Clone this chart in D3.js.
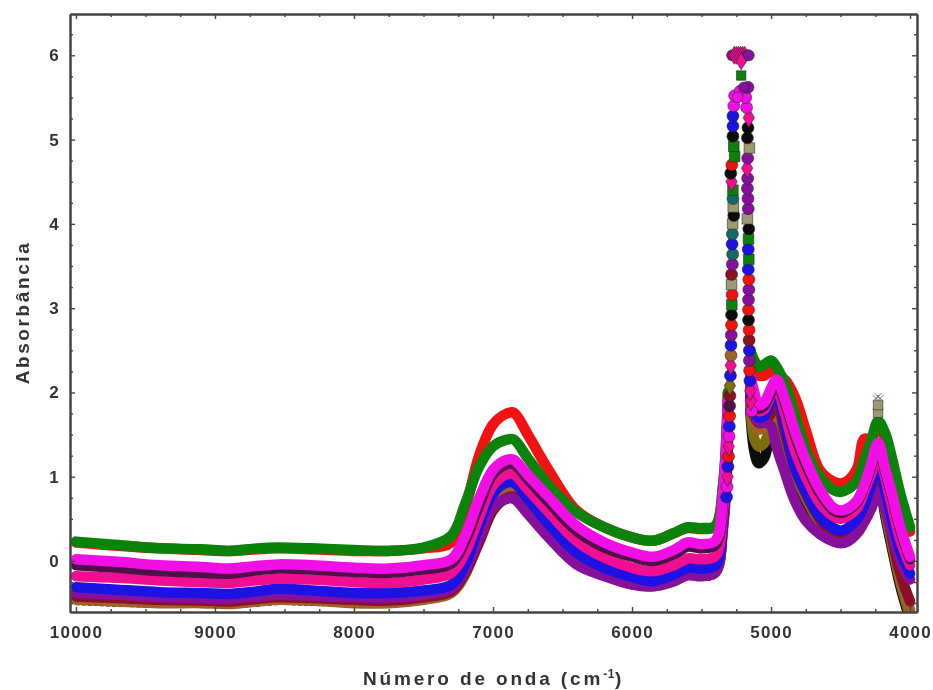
<!DOCTYPE html>
<html><head><meta charset="utf-8">
<script src="https://cdnjs.cloudflare.com/ajax/libs/d3/7.8.5/d3.min.js"></script>
<style>
html,body{margin:0;padding:0;background:#fff}
svg{display:block;filter:blur(0.75px)}
text{font-family:"Liberation Sans",Arial,sans-serif;font-weight:bold;fill:#333}
</style></head><body><svg id="c" width="933" height="690"></svg>
<script>
const wavenumbers=[10000,9700,9400,9100,8900,8700,8550,8300,8000,7750,7500,7300,7200,7100,7000,6900,6850,6750,6600,6400,6200,6000,5850,5700,5600,5500,5400,5345,5310,
 5150,5120,5090,5050,5000,4960,4900,4830,4750,4650,4550,4500,4450,4380,4330,4280,4230,4180,4130,4070,4000];
const gapIndex=29;
const xTicks=[10000,9000,8000,7000,6000,5000,4000];
const yTicks=[0,1,2,3,4,5,6];

const red=[0.22,0.18,0.15,0.13,0.12,0.14,0.15,0.14,0.12,0.12,0.15,0.22,0.62,1.25,1.62,1.75,1.76,1.5,1.08,0.6,0.4,0.28,0.24,0.33,0.39,0.38,0.41,0.9,2.0,
 2.4,2.3,2.2,2.2,2.25,2.2,2.15,1.95,1.55,1.08,0.94,0.92,0.95,1.1,1.45,1.45,1.6,1.45,1.15,0.75,0.35];
const green=[0.23,0.19,0.15,0.14,0.12,0.15,0.16,0.15,0.13,0.12,0.16,0.3,0.68,1.12,1.36,1.44,1.44,1.22,0.9,0.58,0.4,0.28,0.24,0.33,0.4,0.39,0.42,0.9,2.0,
 2.5,2.38,2.3,2.33,2.38,2.3,2.1,1.75,1.32,1.0,0.84,0.82,0.85,0.96,1.2,1.42,1.66,1.52,1.22,0.8,0.4];
const black=[-0.5,-0.52,-0.53,-0.53,-0.54,-0.52,-0.5,-0.51,-0.52,-0.52,-0.48,-0.4,-0.2,0.2,0.58,0.7,0.7,0.52,0.26,-0.04,-0.2,-0.3,-0.33,-0.27,-0.2,-0.21,-0.18,0.35,1.3,
 1.8,1.3,1.16,1.22,1.55,1.7,1.4,1.0,0.7,0.42,0.28,0.26,0.28,0.38,0.52,0.7,1.0,0.55,0.15,-0.3,-0.7];
const olive=[-0.45,-0.47,-0.49,-0.49,-0.5,-0.47,-0.45,-0.46,-0.49,-0.49,-0.45,-0.37,-0.15,0.26,0.66,0.78,0.78,0.6,0.32,0.0,-0.16,-0.27,-0.3,-0.24,-0.16,-0.17,-0.14,0.38,1.35,
 1.85,1.45,1.36,1.4,1.6,1.75,1.45,1.05,0.75,0.46,0.31,0.29,0.31,0.41,0.55,0.75,1.05,0.6,0.2,-0.25,-0.65];
const brown=[-0.46,-0.48,-0.5,-0.5,-0.51,-0.48,-0.46,-0.47,-0.5,-0.5,-0.46,-0.38,-0.16,0.27,0.68,0.82,0.84,0.64,0.34,0.02,-0.14,-0.25,-0.29,-0.22,-0.14,-0.15,-0.12,0.42,1.42,
 1.9,1.62,1.56,1.58,1.7,1.85,1.5,1.1,0.8,0.5,0.33,0.31,0.33,0.44,0.6,0.8,1.1,0.65,0.25,-0.2,-0.58];
const darkred=[-0.42,-0.44,-0.46,-0.47,-0.48,-0.45,-0.43,-0.44,-0.46,-0.47,-0.43,-0.36,-0.14,0.22,0.6,0.75,0.76,0.58,0.3,0,-0.16,-0.26,-0.29,-0.22,-0.14,-0.15,-0.12,0.45,1.45,
 1.95,1.72,1.64,1.65,1.75,1.88,1.52,1.1,0.8,0.5,0.33,0.31,0.33,0.44,0.6,0.8,1.12,0.68,0.28,-0.15,-0.48];
const purple=[-0.38,-0.4,-0.43,-0.44,-0.45,-0.42,-0.4,-0.41,-0.43,-0.44,-0.4,-0.33,-0.1,0.28,0.64,0.74,0.74,0.56,0.28,-0.04,-0.18,-0.28,-0.3,-0.24,-0.17,-0.18,-0.13,0.45,1.5,
 2.0,1.75,1.65,1.65,1.6,1.35,1.05,0.72,0.48,0.32,0.23,0.21,0.23,0.33,0.46,0.62,0.82,0.62,0.32,0,-0.22];
const blue=[-0.31,-0.34,-0.37,-0.38,-0.39,-0.36,-0.33,-0.35,-0.38,-0.38,-0.35,-0.28,-0.04,0.42,0.8,0.93,0.93,0.74,0.44,0.1,-0.08,-0.19,-0.24,-0.16,-0.08,-0.09,-0.05,0.5,1.6,
 2.05,1.8,1.7,1.72,1.9,1.98,1.62,1.12,0.82,0.53,0.39,0.36,0.39,0.5,0.66,0.9,1.2,0.85,0.5,0.12,-0.15];
const pink=[-0.18,-0.2,-0.23,-0.25,-0.26,-0.23,-0.21,-0.22,-0.25,-0.26,-0.22,-0.14,0.1,0.52,0.9,1.03,1.03,0.85,0.58,0.24,0.04,-0.08,-0.12,-0.05,0.03,0.02,0.06,0.6,1.7,
 2.1,1.9,1.78,1.8,1.97,2.05,1.75,1.32,1.0,0.69,0.53,0.5,0.53,0.63,0.82,1.04,1.3,1.0,0.65,0.25,-0.05];
const darkline=[-0.05,-0.08,-0.12,-0.14,-0.15,-0.11,-0.09,-0.1,-0.13,-0.14,-0.1,-0.03,0.24,0.66,1.03,1.15,1.15,0.97,0.7,0.36,0.16,0.05,0,0.08,0.17,0.15,0.19,0.75,1.85,
 2.15,1.95,1.81,1.84,2.0,2.12,1.88,1.5,1.15,0.81,0.6,0.57,0.6,0.7,0.88,1.12,1.37,1.07,0.77,0.37,0.02];
const magenta=[0.02,-0.01,-0.05,-0.07,-0.09,-0.06,-0.04,-0.05,-0.08,-0.09,-0.05,0.02,0.3,0.74,1.08,1.2,1.2,1.02,0.76,0.42,0.22,0.1,0.05,0.13,0.22,0.2,0.24,0.8,1.9,
 2.2,2.0,1.85,1.88,2.05,2.15,1.92,1.55,1.2,0.85,0.63,0.6,0.62,0.72,0.9,1.15,1.4,1.1,0.8,0.4,0.05];

const seriesColors=["#f21212","#0b830b","#0c0c0c","#7d6d10","#a0602a","#8c1024","#86109c","#1c12e4","#f00f92","#4e1048","#f20fe6","#9c9a72","#136a66"];
const seriesValues=[red,green,black,olive,brown,darkred,purple,blue,pink,darkline,magenta];

const peakLeftAbs=[5.52,5.4,5.28,5.16,5.04,4.92,4.8,4.7,4.6,4.5,4.4,4.3,4.2,4.1,4.0,3.88,3.76,3.64,3.52,3.4,3.28,3.16,3.04,2.92,2.8,2.68,2.56,2.44,2.32,2.2,2.08,1.96,1.84,1.72,1.6,1.48,1.36,1.24,1.12,1.0,0.88,0.76];
const peakLeftWn=[5262,5268,5274,5274,5274,5268,5262,5282,5290,5284,5274,5274,5272,5268,5276,5278,5280,5276,5278,5284,5284,5280,5282,5284,5284,5286,5288,5288,5290,5292,5296,5296,5298,5298,5300,5302,5304,5306,5310,5312,5316,5320];
const peakLeftSeries=[10,10,7,7,2,1,1,0,2,8,1,12,11,2,11,12,7,12,6,5,11,0,1,2,0,6,7,4,8,7,3,5,9,0,7,10,8,0,7,8,10,7];

const peakRightAbs=[5.62,5.5,5.38,5.26,5.14,5.02,4.9,4.78,4.66,4.54,4.42,4.3,4.18,4.06,3.94,3.82,3.7,3.58,3.46,3.34,3.22,3.1,2.98,2.86,2.74,2.62,2.5,2.38,2.26,2.14,2.02,1.9,1.78];
const peakRightWn=[5166,5182,5176,5160,5166,5170,5156,5168,5172,5168,5170,5166,5164,5170,5160,5162,5164,5160,5164,5160,5160,5162,5162,5162,5158,5158,5156,5156,5154,5152,5150,5146,5140];
const peakRightSeries=[6,10,10,8,2,2,11,6,8,6,6,6,6,11,2,1,7,1,7,0,6,6,0,2,0,5,7,6,0,7,8,8,10];

const capWn=[5280,5265,5250,5235,5220,5205,5190,5175,5160];
const capSeries=[6,8,8,8,8,8,8,6,6];
const capAbs=6;
const extraWn=[5215,5215,5225,5195,5240,4230,4230];
const extraAbs=[5.93,5.76,5.58,5.62,5.5,1.76,1.85];
const extraSeries=[8,1,10,6,10,11,11];
const asteriskWn=[4245,4230,4215];
const asteriskAbs=[1.93,1.95,1.93];

const labelX="Número de onda (cm";
const labelY="Absorbância";

const L=70,R=917,T=14,B=612,W=933,H=690;
const svg=d3.select("#c");
const x=d3.scaleLinear().domain([10043,3950]).range([L,R]);
const y=d3.scaleLinear().domain([6.49,-0.605]).range([T,B]);
const minorX=d3.range(3,41).map(i=>i*250).filter(v=>v>=4000&&v<=10000&&v%1000);
const minorY=d3.range(-2,26).map(i=>i*0.25).filter(v=>v%1);

svg.append("defs").append("clipPath").attr("id","plot").append("rect")
 .attr("x",L).attr("y",T-10).attr("width",R-L).attr("height",B-T+10);
const plot=svg.append("g").attr("clip-path","url(#plot)");

const bandWidth=10.5;
const line=d3.line().x(d=>x(d[0])).y(d=>y(d[1])).curve(d3.curveCatmullRom.alpha(0.5));
const symbolTypes=[d3.symbolCircle,d3.symbolSquare,d3.symbolCircle,d3.symbolDiamond,d3.symbolCircle,d3.symbolCircle,d3.symbolCircle,d3.symbolCircle,d3.symbolDiamond,d3.symbolCircle,d3.symbolCircle,d3.symbolSquare,d3.symbolCircle];
const marker=(i,s)=>d3.symbol().type(symbolTypes[i]).size(s)();

const drawMarkers=(wn,abs,idx,s)=>plot.append("g").selectAll("path").data(wn.map((w,i)=>({w,a:Array.isArray(abs)?abs[i]:abs,s:idx[i]}))).join("path")
 .attr("transform",d=>`translate(${x(d.w)},${y(d.a)})`)
 .attr("d",d=>marker(d.s,s))
 .attr("fill",d=>seriesColors[d.s]).attr("stroke","#222").attr("stroke-opacity",.55).attr("stroke-width",1);

seriesValues.forEach((vals,i)=>{
 const pts=wavenumbers.map((w,j)=>[w,vals[j]]);
 [pts.slice(0,gapIndex),pts.slice(gapIndex)].forEach((seg,k)=>{
  const speckled=vals===black&&k===0;
  plot.append("path").attr("d",line(seg)).attr("fill","none")
   .attr("stroke",seriesColors[i]).attr("stroke-width",speckled?4:bandWidth)
   .attr("stroke-dasharray",speckled?"4 2":null)
   .attr("stroke-linejoin","round").attr("stroke-linecap",speckled?"butt":"round");
 });
});

drawMarkers(peakLeftWn.slice().reverse(),peakLeftAbs.slice().reverse(),peakLeftSeries.slice().reverse(),112);
drawMarkers(peakRightWn.slice().reverse(),peakRightAbs.slice().reverse(),peakRightSeries.slice().reverse(),112);
drawMarkers(capWn,capAbs,capSeries,95);
drawMarkers(extraWn,extraAbs,extraSeries,90);

plot.append("g").selectAll("path").data(asteriskWn.map((w,i)=>[w,asteriskAbs[i]])).join("path")
 .attr("transform",d=>`translate(${x(d[0])},${y(d[1])})`)
 .attr("d",d3.symbol().type(d3.symbolTimes).size(30)())
 .attr("fill","none").attr("stroke","#8a6a8a").attr("stroke-width",1);

const axisColor="#444";
const styleAxis=g=>{g.select(".domain").attr("stroke",axisColor).attr("stroke-width",2);
 g.selectAll(".tick line").attr("stroke",axisColor).attr("stroke-width",1.4);
 g.selectAll("text").style("font-size","17px").style("letter-spacing","1.2px").attr("fill","#333");};
const ax=(gen,tx,ty)=>svg.append("g").attr("transform",`translate(${tx},${ty})`).call(gen).call(styleAxis);
ax(d3.axisBottom(x).tickValues(xTicks).tickFormat(d3.format("d")).tickSizeInner(-5).tickSizeOuter(0).tickPadding(14),0,B);
ax(d3.axisLeft(y).tickValues(yTicks).tickFormat(d3.format("d")).tickSizeInner(-5).tickSizeOuter(0).tickPadding(10),L,0);
ax(d3.axisTop(x).tickValues(xTicks).tickFormat("").tickSizeInner(-5).tickSizeOuter(0),0,T);
ax(d3.axisRight(y).tickValues(yTicks).tickFormat("").tickSizeInner(-5).tickSizeOuter(0),R,0);
ax(d3.axisBottom(x).tickValues(minorX).tickFormat("").tickSizeInner(-3).tickSizeOuter(0),0,B);
ax(d3.axisTop(x).tickValues(minorX).tickFormat("").tickSizeInner(-3).tickSizeOuter(0),0,T);
ax(d3.axisLeft(y).tickValues(minorY).tickFormat("").tickSizeInner(-3).tickSizeOuter(0),L,0);
ax(d3.axisRight(y).tickValues(minorY).tickFormat("").tickSizeInner(-3).tickSizeOuter(0),R,0);

const tx=svg.append("text").attr("x",493.5).attr("y",685).attr("text-anchor","middle")
 .style("font-size","19px").style("letter-spacing","2.85px");
tx.append("tspan").text(labelX);
tx.append("tspan").text("-1").attr("dy",-7).style("font-size","12px").style("letter-spacing","0.5px");
tx.append("tspan").text(")").attr("dy",7);
svg.append("text").attr("transform","translate(29,312.5) rotate(-90)").attr("text-anchor","middle")
 .style("font-size","19px").style("letter-spacing","2.6px").text(labelY);
</script></body></html>
